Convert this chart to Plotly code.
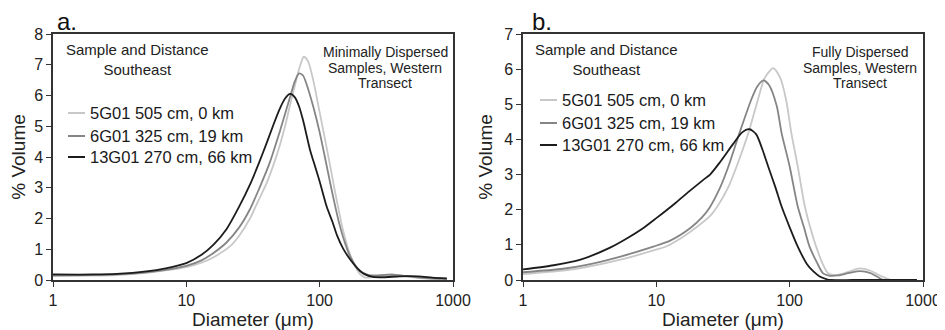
import plotly.graph_objects as go

# ---------------- Panel a: Minimally dispersed ----------------
a_13g01_d = [1, 2, 3, 5, 7, 10, 13, 16, 20, 25, 30, 35, 40, 45, 50, 55, 60, 65, 70, 75, 85, 90, 100, 113, 125, 135, 150, 170, 200, 215, 250, 300, 400, 550, 700, 900]
a_13g01_v = [0.18, 0.18, 0.20, 0.28, 0.38, 0.55, 0.82, 1.15, 1.65, 2.40, 3.10, 3.80, 4.45, 5.05, 5.55, 5.90, 6.05, 5.95, 5.65, 5.20, 4.20, 3.85, 3.20, 2.38, 1.88, 1.45, 1.02, 0.66, 0.30, 0.20, 0.10, 0.09, 0.12, 0.12, 0.08, 0.05]

a_6g01_d = [1, 2, 3, 5, 7, 10, 13, 16, 20, 25, 30, 35, 42.5, 50, 55, 60, 65, 70, 75, 80, 90, 100, 110, 120, 130, 140, 155, 170, 200, 230, 260, 300, 350, 400, 500, 600, 800, 900]
a_6g01_v = [0.15, 0.16, 0.18, 0.25, 0.33, 0.46, 0.64, 0.88, 1.22, 1.72, 2.30, 2.95, 3.85, 4.80, 5.40, 5.95, 6.45, 6.72, 6.65, 6.35, 5.60, 4.80, 3.95, 3.15, 2.45, 1.85, 1.20, 0.75, 0.30, 0.17, 0.15, 0.16, 0.17, 0.15, 0.10, 0.07, 0.04, 0.03]

a_5g01_d = [1, 2, 3, 5, 7, 10, 13, 16, 21.3, 25, 30, 34, 40, 45.5, 50, 55, 60, 65, 70, 76, 82, 90, 100, 110, 120, 130, 140, 150, 170, 200, 220, 250, 300, 350, 400, 500, 600, 800]
a_5g01_v = [0.13, 0.14, 0.16, 0.23, 0.31, 0.42, 0.56, 0.74, 1.10, 1.45, 2.00, 2.50, 3.15, 3.80, 4.35, 5.00, 5.70, 6.30, 6.85, 7.26, 7.10, 6.45, 5.45, 4.55, 3.70, 2.90, 2.20, 1.60, 0.80, 0.20, 0.08, 0.10, 0.17, 0.18, 0.15, 0.09, 0.05, 0.03]

# ---------------- Panel b: Fully dispersed ----------------
b_13g01_d = [1, 1.7, 2.7, 4.5, 6, 8, 10, 14, 18, 22.5, 25.3, 30, 37.8, 44, 50, 56, 62, 69, 78, 87, 100, 115, 135, 150, 168, 190, 200, 300, 500, 900]
b_13g01_v = [0.30, 0.42, 0.58, 0.92, 1.18, 1.48, 1.76, 2.20, 2.55, 2.85, 3.00, 3.35, 3.88, 4.20, 4.29, 4.15, 3.75, 3.23, 2.65, 2.09, 1.50, 0.95, 0.45, 0.25, 0.10, 0.02, 0.0, 0.0, 0.0, 0.0]

b_6g01_d = [1, 2, 3, 5.3, 9.5, 12.7, 18, 22, 25, 30, 34.5, 42, 51.5, 57, 63.5, 70, 80, 87, 100, 115, 128, 141, 160, 178, 200, 230, 280, 340, 400, 450, 505, 600, 900]
b_6g01_v = [0.22, 0.32, 0.43, 0.66, 0.95, 1.12, 1.48, 1.78, 2.05, 2.62, 3.20, 4.18, 5.13, 5.50, 5.68, 5.55, 4.95, 4.18, 3.23, 2.09, 1.50, 0.95, 0.50, 0.19, 0.12, 0.13, 0.20, 0.25, 0.20, 0.10, 0.0, 0.0, 0.0]

b_5g01_d = [1, 2, 3, 5.3, 9.5, 11.9, 16, 20, 25, 29, 35, 40, 49, 57.8, 65, 75.4, 85, 94, 103, 115, 130, 145, 158, 175, 194, 220, 260, 335, 400, 480, 580, 700]
b_5g01_v = [0.17, 0.27, 0.37, 0.57, 0.84, 0.96, 1.24, 1.50, 1.80, 2.12, 2.68, 3.23, 4.18, 5.13, 5.75, 6.03, 5.75, 5.13, 4.18, 3.23, 2.09, 1.40, 0.95, 0.50, 0.19, 0.14, 0.20, 0.33, 0.27, 0.12, 0.0, 0.0]

series_names = ["5G01 505 cm, 0 km", "6G01 325 cm, 19 km", "13G01 270 cm, 66 km"]
series_colors = ["#c8c8c8", "#858585", "#1c1c1c"]
panel_labels = ["a.", "b."]
panel_notes = [["Minimally Dispersed", "Samples, Western", "Transect"],
               ["Fully Dispersed", "Samples, Western", "Transect"]]
x_ticks = [1, 10, 100, 1000]

FONT = "Liberation Sans, Arial, Helvetica, sans-serif"
OFF = 8  # page body margin of the html page
W, H = 945 - OFF, 330 - OFF

fig = go.Figure()

panels = [
    ([a_5g01_d, a_6g01_d, a_13g01_d], [a_5g01_v, a_6g01_v, a_13g01_v], "x", "y"),
    ([b_5g01_d, b_6g01_d, b_13g01_d], [b_5g01_v, b_6g01_v, b_13g01_v], "x2", "y2"),
]
for ds, vs, xa, ya in panels:
    for name, col, d, v in zip(series_names, series_colors, ds, vs):
        fig.add_trace(go.Scatter(
            x=d, y=v, mode="lines", name=name, showlegend=False,
            line=dict(color=col, width=1.8, shape="spline", smoothing=0.7),
            xaxis=xa, yaxis=ya))

# screen-pixel geometry of the two plot areas
pl = [(53, 453), (523, 923)]
ptop, pbot = 34, 280

def px(x):
    return (x - OFF) / W

def py(y):
    return 1 - (y - OFF) / H

axis_common = dict(showline=True, linecolor="#333333", linewidth=1.5, mirror=True,
                   ticks="outside", ticklen=5, tickcolor="#333333", tickwidth=1.3,
                   showgrid=False, zeroline=False, automargin=False,
                   tickfont=dict(family=FONT, size=16, color="#222"))

fig.update_layout(
    width=W, height=H, margin=dict(l=0, r=0, t=0, b=0),
    paper_bgcolor="white", plot_bgcolor="white",
    font=dict(family=FONT, color="#222"),
    xaxis=dict(type="log", range=[0, 3], domain=[px(pl[0][0]), px(pl[0][1])],
               tickvals=x_ticks, ticktext=[str(t) for t in x_ticks], anchor="y",
               title=dict(text="Diameter (μm)", font=dict(family=FONT, size=19), standoff=2),
               **axis_common),
    yaxis=dict(range=[0, 8], dtick=1, domain=[py(pbot), py(ptop)], anchor="x",
               title=dict(text="% Volume", font=dict(family=FONT, size=19), standoff=6),
               **axis_common),
    xaxis2=dict(type="log", range=[0, 3], domain=[px(pl[1][0]), px(pl[1][1])],
                tickvals=x_ticks, ticktext=[str(t) for t in x_ticks], anchor="y2",
                title=dict(text="Diameter (μm)", font=dict(family=FONT, size=19), standoff=2),
                **axis_common),
    yaxis2=dict(range=[0, 7], dtick=1, domain=[py(pbot), py(ptop)], anchor="x2",
                title=dict(text="% Volume", font=dict(family=FONT, size=19), standoff=6),
                **axis_common),
)

annotations = []
shapes = []
legend_rows = [[113, 136, 157], [100, 123, 145]]
legend_line = [(68, 85), (540, 557)]
left_note_cx = [137, 606]
right_note_cx = [385, 860]
right_note_rows = [52, 68, 83]
label_x = [55, 530]

for i in range(2):
    annotations.append(dict(text=panel_labels[i], x=px(label_x[i]), y=py(22), xref="paper", yref="paper",
                            xanchor="left", yanchor="middle", showarrow=False,
                            font=dict(family=FONT, size=24, color="#111")))
    annotations.append(dict(text="Sample and Distance<br>Southeast", x=px(left_note_cx[i]), y=py(59),
                            xref="paper", yref="paper", xanchor="center", yanchor="middle",
                            showarrow=False, align="center",
                            font=dict(family=FONT, size=15, color="#222")))
    for line_txt, yy in zip(panel_notes[i], right_note_rows):
        annotations.append(dict(text=line_txt, x=px(right_note_cx[i]), y=py(yy),
                                xref="paper", yref="paper", xanchor="center", yanchor="middle",
                                showarrow=False, align="center",
                                font=dict(family=FONT, size=14, color="#222")))
    for name, col, yy in zip(series_names, series_colors, legend_rows[i]):
        shapes.append(dict(type="line", xref="paper", yref="paper",
                           x0=px(legend_line[i][0]), x1=px(legend_line[i][1]),
                           y0=py(yy), y1=py(yy), line=dict(color=col, width=2)))
        annotations.append(dict(text=name, x=px(legend_line[i][1] + 3), y=py(yy),
                                xref="paper", yref="paper", xanchor="left", yanchor="middle",
                                showarrow=False, font=dict(family=FONT, size=16.5, color="#1a1a1a")))

fig.update_layout(annotations=annotations, shapes=shapes)

fig.write_html("out.html")
